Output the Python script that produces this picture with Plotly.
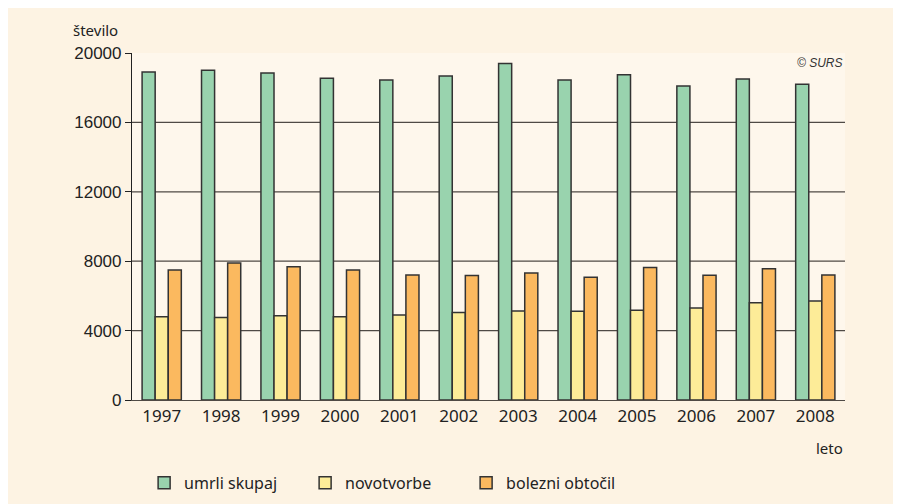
import plotly.graph_objects as go

years = ["1997", "1998", "1999", "2000", "2001", "2002", "2003", "2004", "2005", "2006", "2007", "2008"]
umrli_skupaj = [18900, 19000, 18850, 18550, 18450, 18670, 19400, 18450, 18750, 18100, 18500, 18200]
novotvorbe = [4800, 4750, 4850, 4800, 4900, 5050, 5130, 5110, 5180, 5300, 5600, 5700]
bolezni_obtocil = [7500, 7900, 7680, 7490, 7200, 7170, 7320, 7080, 7630, 7190, 7560, 7200]
series_names = ["umrli skupaj", "novotvorbe", "bolezni obtočil"]
series_colors = ["#99d3ae", "#fdec98", "#fbb95f"]
y_ticks = [0, 4000, 8000, 12000, 16000, 20000]
grid_values = [4000, 8000, 12000, 16000]

fig = go.Figure()
for name, vals, col in zip(series_names, [umrli_skupaj, novotvorbe, bolezni_obtocil], series_colors):
    fig.add_trace(go.Bar(
        x=years, y=vals, name=name,
        marker=dict(color=col, line=dict(color="#333333", width=1.5)),
    ))

for g in grid_values:
    fig.add_shape(type="line", xref="paper", yref="y", x0=0, x1=1, y0=g, y1=g,
                  line=dict(color="#4f4a45", width=1.2), layer="below")

fig.update_layout(
    width=901, height=504,
    margin=dict(l=124, r=64, t=45, b=112),
    paper_bgcolor="rgb(253,243,227)",
    plot_bgcolor="rgb(254,247,236)",
    barmode="group", bargap=0.34, bargroupgap=0,
    font=dict(family="Liberation Sans, Arial", color="#222222"),
    showlegend=True,
    legend=dict(orientation="h", x=0.017, xanchor="left", y=-0.19, yanchor="top",
                font=dict(size=16, family="Noto Sans", color="#222222"),
                entrywidth=116, entrywidthmode="pixels",
                bgcolor="rgba(0,0,0,0)", traceorder="normal"),
    xaxis=dict(showline=True, linecolor="#4f4a45", linewidth=1.2, ticks="",
               tickfont=dict(size=17, family="Noto Sans", color="#222222"),
               range=[-0.5, 11.5], showgrid=False),
    yaxis=dict(range=[0, 20000], tickvals=y_ticks, ticktext=[str(v) for v in y_ticks],
               showgrid=False, zeroline=False, showline=True, linecolor="#222222", linewidth=1.2,
               ticks="outside", ticklen=6, tickcolor="#222222", tickwidth=1.2,
               tickfont=dict(size=17, family="Liberation Sans, Arial", color="#222222")),
    annotations=[
        dict(text="število", xref="paper", yref="paper", x=-0.085, y=1.032, xanchor="left", yanchor="bottom",
             showarrow=False, font=dict(size=15, family="Noto Sans", color="#222222")),
        dict(text="leto", xref="paper", yref="paper", x=1.0, y=-0.105, xanchor="right", yanchor="top",
             showarrow=False, font=dict(size=15, family="Noto Sans", color="#222222")),
        dict(text="<i>© SURS</i>", xref="paper", yref="paper", x=1.0, y=0.998, xanchor="right", yanchor="top",
             showarrow=False, font=dict(size=12, family="Liberation Sans, Arial", color="#333333")),
    ],
)

fig.write_html("out.html")
